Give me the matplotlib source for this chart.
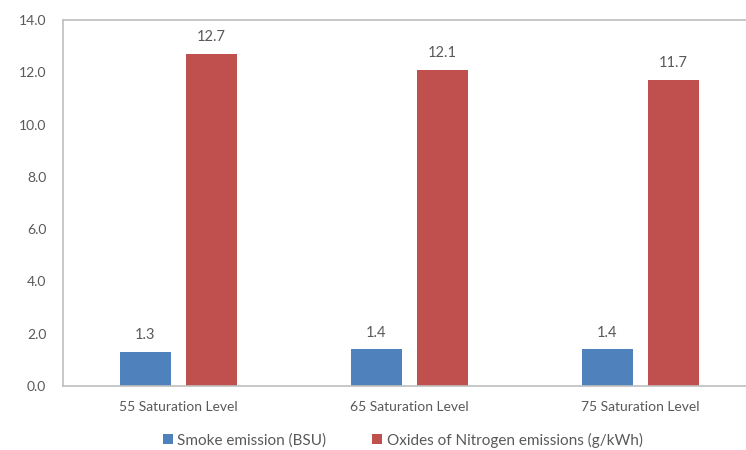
import matplotlib.pyplot as plt
import numpy as np

plt.rcParams['font.family'] = ['Lato', 'DejaVu Sans']

levels = ['55 Saturation Level', '65 Saturation Level', '75 Saturation Level']
smoke = [1.3, 1.4, 1.4]
nox = [12.7, 12.1, 11.7]
series_names = ['Smoke emission (BSU)', 'Oxides of Nitrogen emissions (g/kWh)']

BLUE = '#4F81BD'
RED = '#C0504D'
TEXT = '#595959'
AXIS = '#BFBFBF'

fig = plt.figure(figsize=(7.46, 4.5), dpi=100)
# plot area runs past the right edge of the canvas
ax = fig.add_axes([63 / 746, 1 - 386 / 450, 693 / 746, 366 / 450])

x = np.arange(len(levels))
width = 0.22
offset = 0.143
b1 = ax.bar(x - offset, smoke, width, color=BLUE, label=series_names[0])
b2 = ax.bar(x + offset, nox, width, color=RED, label=series_names[1])

for bars, vals in ((b1, smoke), (b2, nox)):
    for rect, v in zip(bars, vals):
        ax.annotate('{:.1f}'.format(v), (rect.get_x() + rect.get_width() / 2, v),
                    xytext=(0, 7), textcoords='offset points',
                    ha='center', va='bottom', fontsize=10.5, color=TEXT)

ax.set_xlim(-0.5, 2.5)
ax.set_ylim(0, 14)
ax.set_yticks(np.arange(0, 14.1, 2))
ax.set_yticklabels(['{:.1f}'.format(t) for t in np.arange(0, 14.1, 2)])
ax.set_xticks(x)
ax.set_xticklabels(levels)
ax.tick_params(axis='both', length=0, labelsize=10, labelcolor=TEXT)
ax.tick_params(axis='y', pad=12)
ax.tick_params(axis='x', pad=11)

for side in ('left', 'bottom', 'top'):
    ax.spines[side].set_color(AXIS)
    ax.spines[side].set_linewidth(1.2)
ax.spines['right'].set_visible(False)

fig.legend(handles=[b1, b2], loc='center', bbox_to_anchor=(0.54, 0.022),
           ncol=2, frameon=False, fontsize=11, labelcolor=TEXT,
           handlelength=0.65, handleheight=0.65, handletextpad=0.3, columnspacing=3.0)

fig.savefig('out.png', dpi=100)
